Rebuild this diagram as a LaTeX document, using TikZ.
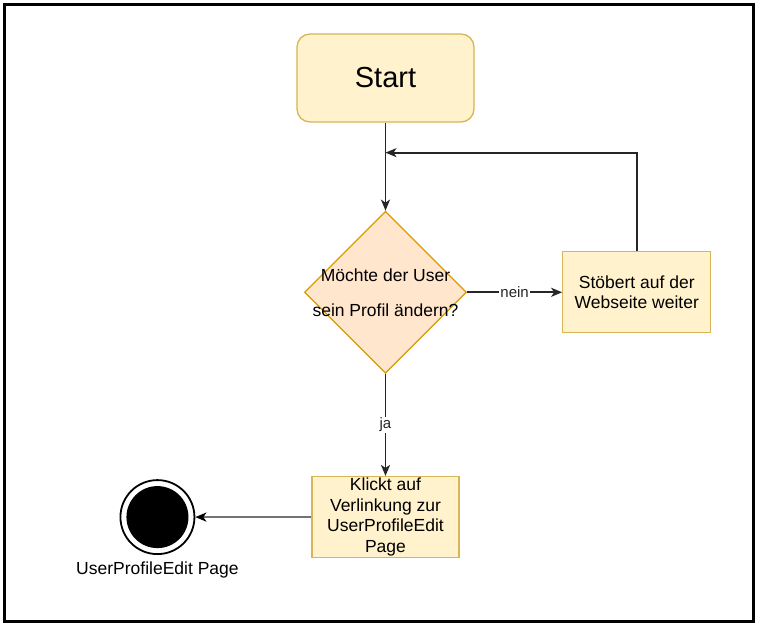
\documentclass[tikz,border=0pt]{standalone}
\usepackage{fontspec}
\setmainfont{Liberation Sans}
\usepackage{xcolor}
\usepackage{tikz}
\usetikzlibrary{%
  shapes.geometric,
  arrows.meta,
  positioning,
  calc}
\definecolor{noteFill}{HTML}{FFF2CC}
\definecolor{noteDraw}{HTML}{D6B656}
\definecolor{askFill}{HTML}{FFE6CC}
\definecolor{askDraw}{HTML}{D79B00}
\tikzset{
  %% Start box
  startbox/.style={
    rectangle, rounded corners=13pt,
    draw=noteDraw, fill=noteFill, line width=1.3pt,
    minimum width=177pt, minimum height=88pt,
    font=\fontsize{29}{34}\selectfont},
  %% Action boxes
  actbox/.style={
    rectangle, draw=noteDraw, fill=noteFill, line width=1.3pt,
    minimum width=148pt, minimum height=81pt,
    align=center, inner sep=1pt,
    font=\fontsize{17.5}{20.6}\selectfont},
  %% Decision diamond
  askbox/.style={
    diamond, aspect=1,
    draw=askDraw, fill=askFill, line width=1.3pt,
    minimum width=162pt, minimum height=162pt,
    inner sep=-20pt, align=center,
    font=\fontsize{17.5}{20.5}\selectfont},
  %% Final state
  endnode/.style={
    circle, draw=black, line width=1.8pt,
    minimum size=74pt, inner sep=0pt,
    path picture={\fill[black] (path picture bounding box.center) circle (31pt);}},
  %% Arrows
  arrow/.style={-{Stealth[length=11pt,width=9pt,inset=3pt]}, line width=1.8pt, black!85},
  garrow/.style={-{Stealth[length=11pt,width=9pt,inset=3pt,color=black]}, line width=2.5pt, black!55},
  lbl/.style={fill=white, inner sep=1pt, font=\fontsize{15}{18}\selectfont},
}
\begin{document}
\begin{tikzpicture}[node distance=88pt]

  %% page and frame
  \useasboundingbox (-385.5pt,78pt) rectangle (374.5pt,-550pt);
  \draw[line width=3pt] (-380.5pt,73pt) rectangle (367.5pt,-543pt);

  \node[startbox] (start) at (0,0) {Start};

  \node[askbox, below=88pt of start] (ask)
        {M\"ochte der User\\[14.5pt] sein Profil \"andern?};

  \node[actbox, right=95pt of ask] (browse)
        {St\"obert auf der\\ Webseite weiter};

  \node[actbox, below=102pt of ask, minimum width=147pt] (click)
        {Klickt auf\\ Verlinkung zur\\ UserProfileEdit\\ Page};

  \node[endnode, left=116pt of click,
        label={[font=\fontsize{17.5}{20.5}\selectfont, label distance=3pt]below:UserProfileEdit Page}] (stop) {};

  \coordinate[below=30pt of start] (loopin);

  %% Main flow
  \draw[arrow] (start) -- (ask);
  \draw[arrow] (ask) -- node[lbl]{nein} (browse);
  \draw[arrow] (browse.north) |- (loopin);
  \draw[arrow] (ask) -- node[lbl]{ja} (click);
  \draw[garrow] (click) -- (stop);

\end{tikzpicture}
\end{document}
